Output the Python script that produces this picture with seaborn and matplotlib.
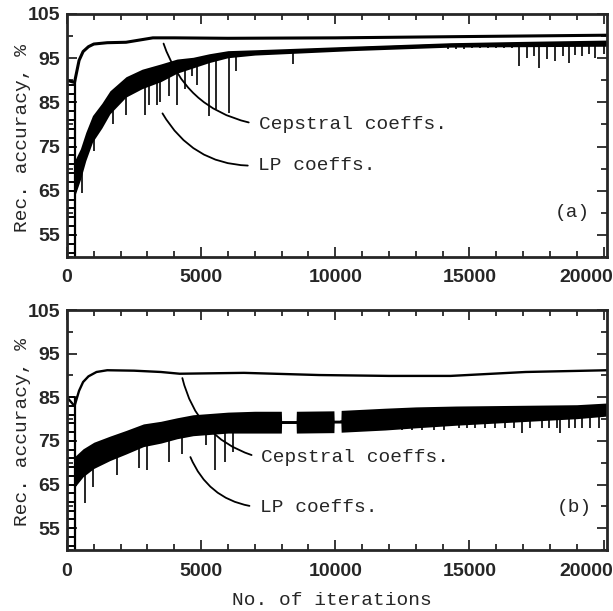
import numpy as np
import matplotlib
matplotlib.use("Agg")
import matplotlib.pyplot as plt
import matplotlib.transforms as mtransforms
import seaborn as sns
from matplotlib.ticker import MultipleLocator

# ---- panel (a) data ----
cep_a_x = [280, 450, 600, 800, 1000, 1500, 2200, 2800, 3200, 4000, 6000, 10000, 15000, 20150]
cep_a_y = [89.5, 94.5, 96.5, 97.6, 98.2, 98.5, 98.6, 99.2, 99.6, 99.6, 99.5, 99.6, 99.9, 100.2]

lp_a_x = [300, 500, 700, 950, 1300, 1600, 2200, 2800, 3500, 4100, 4700, 5300, 6000, 7000, 10600, 14300, 17000, 20150]
lp_a_mid = [68, 71, 75, 79, 82, 85, 88.5, 90.3, 91.7, 93.2, 94.0, 95.0, 95.9, 96.3, 97.2, 98.0, 98.2, 98.4]
lp_a_half = [4.0, 3.5, 3.2, 3.0, 2.8, 2.6, 2.3, 2.2, 2.0, 1.6, 1.2, 1.0, 0.8, 0.6, 0.5, 0.5, 0.6, 0.7]

spk_a_x = [550, 1000, 1700, 2200, 2900, 3070, 3350, 3450, 3800, 4100, 4400, 4650, 4850, 5300,
           5550, 6050, 6300, 8430, 14200, 14500, 14800, 15100, 15400, 15700, 16000, 16300,
           16600, 16850, 17150, 17400, 17600, 17900, 18200, 18500, 18700, 18950, 19200,
           19450, 19700, 20000]
spk_a_low = [64.5, 74, 80, 82.2, 82.2, 84.3, 84.3, 85, 86.5, 84.5, 88, 91, 89, 82,
             83.5, 82.7, 92, 93.7, 97.0, 97.1, 97.1, 97.2, 97.2, 97.3, 97.3, 97.3,
             97.2, 93.3, 95, 95.5, 92.8, 94.8, 94.4, 95.5, 94, 95.8, 95.5,
             96, 95, 96]

rungs_a = [51, 53, 55, 57, 59, 61, 63, 65, 67, 69, 71, 73, 75, 77, 79, 81, 83, 85, 87, 89]

# ---- panel (b) data ----
cep_b_x = [280, 450, 600, 800, 1100, 1500, 2500, 3500, 4200, 6600, 9400, 12000, 14300, 17100, 20150]
cep_b_y = [83, 86.5, 88.5, 89.8, 90.8, 91.2, 91.1, 90.8, 90.4, 90.6, 90.1, 89.9, 89.9, 90.8, 91.2]

lp_b_x = [300, 600, 1000, 1600, 2200, 2850, 3500, 4100, 4700, 6000, 7000, 7990, 8000, 8540,
          8550, 9950, 9960, 10210, 10220, 11850, 13000, 14500, 16000, 17500, 19000, 20150]
lp_b_mid = [68, 70, 71.7, 73.3, 74.7, 76.3, 77, 77.9, 78.6, 79.2, 79.3, 79.3, 79.3, 79.3,
            79.3, 79.4, 79.4, 79.4, 79.5, 80.0, 80.4, 80.8, 81.1, 81.4, 81.7, 82.2]
lp_b_half = [3.5, 3.2, 3.0, 2.8, 2.7, 2.6, 2.5, 2.4, 2.4, 2.4, 2.5, 2.5, 0.3, 0.3,
             2.5, 2.5, 0.3, 0.3, 2.5, 2.5, 2.4, 2.2, 2.0, 1.8, 1.6, 1.5]

spk_b_x = [670, 970, 1870, 2700, 3000, 3800, 4300, 5200, 5500, 5900, 6200, 12100, 12470,
           12850, 13220, 13670, 14040, 14600, 14900, 15200, 15580, 15950, 16330, 16670,
           16970, 17270, 17720, 17980, 18280, 18390, 18730, 18950, 19210, 19510, 19850, 20150]
spk_b_low = [60.7, 64.4, 67.2, 68.8, 68.3, 70.1, 72, 74, 68.3, 70.1, 72.4, 77.4, 77.4,
             77.4, 77.4, 77.5, 77.6, 77.9, 77.9, 77.9, 77.9, 77.9, 77.9, 77.9,
             76.8, 77.9, 77.9, 77.9, 77.9, 76.8, 77.9, 77.9, 77.9, 77.9, 77.9, 78.2]

rungs_b = [51, 53, 55, 57, 59, 61, 63, 65, 67, 69, 71, 73, 75, 77, 79, 81, 83, 85]

MONO = "Liberation Mono"
TICKFONT = "Liberation Sans"

sns.set_style("ticks")


def draw_panel(fig, ax, cep_x, cep_y, lp_x, lp_mid, lp_half, spk_x, spk_low, rungs, top, cep_lw):
    # the oscillating start shows up as a ladder
    ax.vlines([0, 280], 50, top, color="black", lw=1.6)
    ax.hlines(rungs, 0, 280, color="black", lw=1.4)

    lo = np.array(lp_mid) - np.array(lp_half)
    hi = np.array(lp_mid) + np.array(lp_half)
    ax.fill_between(lp_x, lo, hi, color="black", lw=0)
    sns.lineplot(x=lp_x, y=lp_mid, ax=ax, color="black", lw=1.5, estimator=None, sort=False)
    ax.vlines(spk_x, spk_low, np.interp(spk_x, lp_x, lp_mid), color="black", lw=1.2)

    sns.lineplot(x=[0] + cep_x, y=[top] + cep_y, ax=ax, color="black", lw=cep_lw,
                 estimator=None, sort=False)

    ax.set_xlim(0, 20130)
    ax.set_ylim(50, 105)
    ax.set_xticks([0, 5000, 10000, 15000, 20000])
    ax.xaxis.set_minor_locator(MultipleLocator(1000))
    ax.set_yticks([55, 65, 75, 85, 95, 105])
    ax.yaxis.set_minor_locator(MultipleLocator(5))
    ax.tick_params(which="both", direction="in", top=True, right=True, width=1.3)
    ax.tick_params(axis="y", pad=5)
    ax.tick_params(axis="x", pad=9)
    ax.tick_params(which="major", length=7)
    ax.tick_params(which="minor", length=4)
    for lab in ax.get_xticklabels() + ax.get_yticklabels():
        lab.set_fontfamily(TICKFONT)
        lab.set_fontweight("bold")
        lab.set_fontsize(14)
    # last x label sits at the page edge in the scan
    last = ax.get_xticklabels()[-1]
    last.set_transform(last.get_transform()
                       + mtransforms.ScaledTranslation(-0.17, 0, fig.dpi_scale_trans))
    for sp in ax.spines.values():
        sp.set_linewidth(2)
    ax.set_xlabel("")
    ax.set_ylabel("Rec. accuracy, %", fontfamily=MONO, fontsize=14)
    ax.yaxis.set_label_coords(-0.066, 0.49)


def leader(ax, text, xy, xytext):
    ax.annotate(text, xy=xy, xytext=xytext, ha="left", va="center",
                fontfamily=MONO, fontsize=14,
                arrowprops=dict(arrowstyle="-", color="black", lw=1.3,
                                connectionstyle="arc3,rad=-0.3",
                                shrinkA=5, shrinkB=0, relpos=(0, 0.5)))


fig = plt.figure(figsize=(6.13, 6.11), dpi=100)
ax_a = fig.add_axes([0.1093, 0.5794, 0.8809, 0.3977])
ax_b = fig.add_axes([0.1093, 0.0998, 0.8809, 0.3928])

draw_panel(fig, ax_a, cep_a_x, cep_a_y, lp_a_x, lp_a_mid, lp_a_half, spk_a_x, spk_a_low, rungs_a, 90, 2.2)
draw_panel(fig, ax_b, cep_b_x, cep_b_y, lp_b_x, lp_b_mid, lp_b_half, spk_b_x, spk_b_low, rungs_b, 85, 1.7)

leader(ax_a, "Cepstral coeffs.", (3600, 98.3), (7150, 80))
leader(ax_a, "LP coeffs.", (3560, 82.5), (7120, 70.7))
ax_a.text(18200, 60, "(a)", fontfamily=MONO, fontsize=14, ha="left", va="center")

leader(ax_b, "Cepstral coeffs.", (4300, 89.4), (7250, 71.1))
leader(ax_b, "LP coeffs.", (4600, 71.3), (7180, 59.8))
ax_b.text(18250, 59.8, "(b)", fontfamily=MONO, fontsize=14, ha="left", va="center")

ax_b.set_xlabel("No. of iterations", fontfamily=MONO, fontsize=14)
ax_b.xaxis.set_label_coords(0.49, -0.175)

fig.savefig("out.png", dpi=100)
